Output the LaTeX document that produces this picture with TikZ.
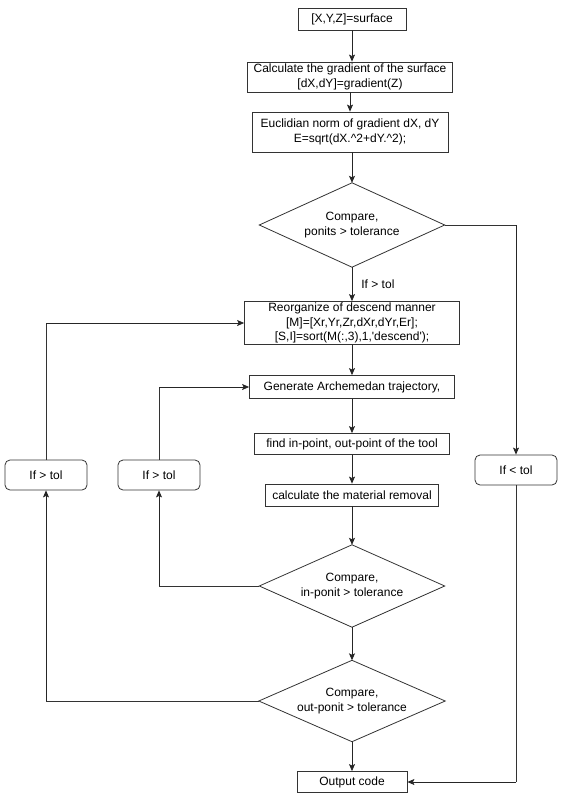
\documentclass[tikz,border=0pt]{standalone}
\usepackage{fontspec}
\setmainfont{Liberation Sans}
\usetikzlibrary{arrows.meta}
\begin{document}
\begin{tikzpicture}[x=1pt,y=-1pt,
  font=\fontsize{12}{14.5}\selectfont,
  proc/.style={draw=black!80, line width=0.8pt, align=center, inner sep=0pt},
  decide/.style={align=center, inner sep=0pt, minimum width=185pt},
  cond/.style={draw=black!80, line width=0.8pt, rounded corners=5pt, align=center, minimum width=82pt, minimum height=30pt, inner sep=0pt},
  conn/.style={draw=black!85, line width=0.8pt, -{Stealth[length=7pt,width=6pt,inset=1.5pt]}},
  link/.style={draw=black!80, line width=0.8pt}
]
\fill[white] (0,0) rectangle (581,811);
\useasboundingbox (0,0) rectangle (581,811);

% main column
\node[proc, minimum width=108pt, minimum height=22pt] (b1) at (352,19) {[X,Y,Z]=surface};
\node[proc, minimum width=205pt, minimum height=30pt] (b2) at (350,77) {Calculate the gradient of the surface\\{}[dX,dY]=gradient(Z)};
\node[proc, minimum width=196pt, minimum height=40pt] (b3) at (350,132) {Euclidian norm of gradient dX, dY\\E=sqrt(dX.\textasciicircum 2+dY.\textasciicircum 2);};
\node[decide, minimum height=84pt] (d1) at (352,225) {Compare,\\ponits > tolerance};
\draw[link] (d1.north) -- (d1.east) -- (d1.south) -- (d1.west) -- cycle;
\node[proc, minimum width=215pt, minimum height=43pt] (b4) at (352,323) {Reorganize of descend manner\\{}[M]=[Xr,Yr,Zr,dXr,dYr,Er];\\{}[S,I]=sort(M(:,3),1,\textquotesingle descend\textquotesingle);};
\node[proc, minimum width=205pt, minimum height=23pt] (b5) at (352,387) {Generate Archemedan trajectory,};
\node[proc, minimum width=195pt, minimum height=21pt] (b6) at (352,444) {find in-point, out-point of the tool};
\node[proc, minimum width=173pt, minimum height=22pt] (b7) at (352,495) {calculate the material removal};
\node[decide, minimum height=82pt] (d2) at (352,586) {Compare,\\in-ponit > tolerance};
\draw[link] (d2.north) -- (d2.east) -- (d2.south) -- (d2.west) -- cycle;
\node[decide, minimum height=81pt, minimum width=186pt] (d3) at (352,701) {Compare,\\out-ponit > tolerance};
\draw[link] (d3.north) -- (d3.east) -- (d3.south) -- (d3.west) -- cycle;
\node[proc, minimum width=110pt, minimum height=21pt] (out) at (352,782) {Output code};

% condition boxes
\node[cond] (c1) at (46,475) {If > tol};
\node[cond] (c2) at (159,475) {If > tol};
\node[cond] (c3) at (516,470) {If < tol};

% coordinates of bends
\coordinate (r1) at (516,225);
\coordinate (r2) at (516,782);
\coordinate (m1) at (159,586);
\coordinate (m2) at (159,387);
\coordinate (l1) at (46,701);
\coordinate (l2) at (46,323);

% main arrows
\draw[conn] (b1) -- (b1 |- b2.north);
\draw[conn] (b2) -- (b2 |- b3.north);
\draw[conn] (b3.south -| d1) -- (d1.north);
\draw[conn] (d1.south) -- (b4.north) node[pos=0.5, anchor=west, xshift=9pt, inner sep=0pt] {If > tol};
\draw[conn] (b4) -- (b5.north);
\draw[conn] (b5) -- (b6.north);
\draw[conn] (b6) -- (b7.north);
\draw[conn] (b7) -- (d2.north);
\draw[conn] (d2.south) -- (d3.north);
\draw[conn] (d3.south) -- (out.north);

% right branch
\draw[link] (d1.east) -- (r1);
\draw[conn] (r1) -- (c3.north);
\draw[link] (c3.south) -- (r2);
\draw[conn] (r2) -- (out.east);

% middle loop
\draw[link] (d2.west) -- (m1);
\draw[conn] (m1) -- (c2.south);
\draw[link] (c2.north) -- (m2);
\draw[conn] (m2) -- (b5.west);

% left loop
\draw[link] (d3.west) -- (l1);
\draw[conn] (l1) -- (c1.south);
\draw[link] (c1.north) -- (l2);
\draw[conn] (l2) -- (b4.west);
\end{tikzpicture}
\end{document}
